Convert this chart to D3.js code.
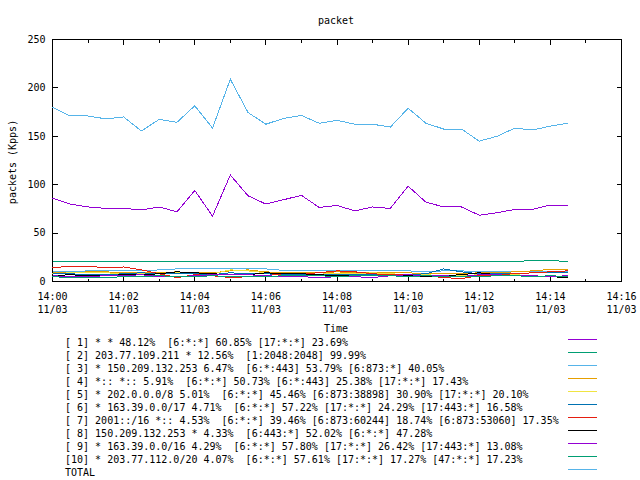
<!DOCTYPE html>
<html>
<head>
<meta charset="utf-8">
<script src="https://cdn.jsdelivr.net/npm/d3@7"></script>
<style>
body { margin: 0; background: #fff; }
text { font-family: "DejaVu Sans Mono", monospace; font-size: 10px; fill: #000; white-space: pre; }
</style>
</head>
<body>
<svg width="640" height="480"></svg>
<script>
// sample times, 30 s apart
var times = ['14:00:00', '14:00:30', '14:01:00', '14:01:30', '14:02:00', '14:02:30', '14:03:00', '14:03:30',
  '14:04:00', '14:04:30', '14:05:00', '14:05:30', '14:06:00', '14:06:30', '14:07:00', '14:07:30',
  '14:08:00', '14:08:30', '14:09:00', '14:09:30', '14:10:00', '14:10:30', '14:11:00', '14:11:30',
  '14:12:00', '14:12:30', '14:13:00', '14:13:30', '14:14:00', '14:14:30']

var s1 = [86, 80, 77, 75.5, 75.5, 74, 77, 72, 94, 67.5, 110, 88.5, 80, 84.5, 89, 76.5, 78.5, 73, 77, 75.5, 98.5, 82, 77, 77, 68.5, 71, 74.5, 74.5, 79, 78]
var s2 = [20.5, 20.5, 20.5, 20.5, 20.5, 20.5, 20.5, 20.5, 20.5, 20.5, 20.5, 20.5, 20.5, 20.5, 20.5, 20.5, 20.5, 20.5, 20.5, 20.5, 20.5, 20.5, 20.5, 20.5, 20.5, 20.5, 20.5, 21.8, 21.8, 20.5]
var s3 = [10, 10, 11, 11, 11, 11, 12, 13, 13, 13, 13, 13, 13, 11.5, 11.5, 11, 11, 11, 11, 11, 11, 10, 11, 11, 10, 10, 10, 10, 10, 10]
var s4 = [9, 9, 10, 10, 9, 9, 9, 10, 9, 9, 11, 12, 10, 9, 9, 9, 10, 9, 9, 9, 9, 8, 8, 8, 9, 9, 10, 11, 12.5, 12]
var s5 = [8, 9, 9, 9, 8, 8, 8, 9, 9, 8, 12, 11, 9, 8, 8, 9, 8, 8, 9, 8, 7, 7, 6, 6, 7, 7, 7, 6, 5, 5]
var s6 = [8, 8, 7, 7, 8, 9, 8, 8, 8, 7, 9, 8, 8, 7, 7, 7, 7, 7, 7, 7, 7, 8, 13, 10, 8, 8, 8, 9, 9, 9]
var s7 = [14, 16, 16, 14, 15, 12, 8, 4, 7, 6, 4, 5, 6, 8, 8, 9, 11, 10, 8, 7, 7, 6, 4, 3, 6, 7, 8, 9, 10, 11]
var s8 = [6, 7, 6, 6, 7, 7, 8, 10, 9, 8, 7, 7, 9, 8, 8, 7, 6, 6, 6, 6, 6, 5, 6, 7, 9, 7, 6, 5, 5, 4]
var s9 = [6, 5, 5, 6, 6, 7, 5, 5, 6, 7, 7, 7, 6, 5, 5, 4, 5, 5, 4, 6, 7, 6, 6, 5, 7, 7, 6, 6, 5, 6]
var s10 = [5, 4, 4, 4, 5, 5, 6, 5, 5, 6, 5, 5, 5, 6, 6, 6, 5, 6, 6, 6, 5, 6, 5, 5, 5, 6, 6, 5, 6, 5]
var total = [180, 171, 171, 168, 170, 155.5, 167.5, 164.5, 181.5, 158.5, 209, 174.5, 162.5, 168.5, 171.5, 163.5, 166.5, 162.5, 162.5, 159.5, 179, 163.5, 157.5, 157.5, 145, 150, 158.5, 156.5, 160.5, 163.5]

var yTicks = [0, 50, 100, 150, 200, 250]

var legendLabels = [
  '[ 1] * * 48.12%  [6:*:*] 60.85% [17:*:*] 23.69%',
  '[ 2] 203.77.109.211 * 12.56%  [1:2048:2048] 99.99%',
  '[ 3] * 150.209.132.253 6.47%  [6:*:443] 53.79% [6:873:*] 40.05%',
  '[ 4] *:: *:: 5.91%  [6:*:*] 50.73% [6:*:443] 25.38% [17:*:*] 17.43%',
  '[ 5] * 202.0.0.0/8 5.01%  [6:*:*] 45.46% [6:873:38898] 30.90% [17:*:*] 20.10%',
  '[ 6] * 163.39.0.0/17 4.71%  [6:*:*] 57.22% [17:*:*] 24.29% [17:443:*] 16.58%',
  '[ 7] 2001::/16 *:: 4.53%  [6:*:*] 39.46% [6:873:60244] 18.74% [6:873:53060] 17.35%',
  '[ 8] 150.209.132.253 * 4.33%  [6:443:*] 52.02% [6:*:*] 47.28%',
  '[ 9] * 163.39.0.0/16 4.29%  [6:*:*] 57.80% [17:*:*] 26.42% [17:443:*] 13.08%',
  '[10] * 203.77.112.0/20 4.07%  [6:*:*] 57.61% [17:*:*] 17.27% [47:*:*] 17.23%',
  'TOTAL'
]
var colors = ['#9400d3', '#009e73', '#56b4e9', '#e69f00', '#f0e442', '#0072b2', '#e51e10', '#000000', '#9400d3', '#009e73', '#56b4e9']

var series = [s1, s2, s3, s4, s5, s6, s7, s8, s9, s10, total]

var parseTime = d3.timeParse('%Y-%m-%d %H:%M:%S')
var dates = times.map(function (t) { return parseTime('2023-11-03 ' + t) })

var x = d3.scaleTime()
  .domain([parseTime('2023-11-03 14:00:00'), parseTime('2023-11-03 14:16:00')])
  .range([52.5, 621.5])
var y = d3.scaleLinear().domain([0, 250]).range([281.5, 39.5])

var svg = d3.select('svg')

svg.append('text').attr('x', 336).attr('y', 24).attr('text-anchor', 'middle').text('packet')

// minor ticks bottom and top
svg.append('g').attr('transform', 'translate(0,281.5)')
  .call(d3.axisBottom(x).ticks(d3.timeMinute.every(1)).tickSize(-3).tickFormat('').offset(0))
svg.append('g').attr('transform', 'translate(0,39.5)')
  .call(d3.axisTop(x).ticks(d3.timeMinute.every(1)).tickSize(-3).tickFormat('').offset(0))

var gx = svg.append('g').attr('transform', 'translate(0,281.5)')
  .call(d3.axisBottom(x).ticks(d3.timeMinute.every(2)).tickSize(-5).offset(0))
gx.selectAll('.tick text').attr('dy', null).attr('y', null).text(null)
  .each(function (d) {
    var t = d3.select(this)
    t.append('tspan').attr('x', 0).attr('y', 18.5).text(d3.timeFormat('%H:%M')(d))
    t.append('tspan').attr('x', 0).attr('y', 31.5).text(d3.timeFormat('%m/%d')(d))
  })
svg.append('g').attr('transform', 'translate(0,39.5)')
  .call(d3.axisTop(x).ticks(d3.timeMinute.every(2)).tickSize(-5).tickFormat('').offset(0))

svg.append('g').attr('transform', 'translate(52.5,0)')
  .call(d3.axisLeft(y).tickValues(yTicks).tickSize(-5).tickPadding(7).offset(0))
svg.append('g').attr('transform', 'translate(621.5,0)')
  .call(d3.axisRight(y).tickValues(yTicks).tickSize(-5).tickFormat('').offset(0))

svg.selectAll('.domain').remove()
svg.selectAll('.tick line').attr('stroke', '#000').attr('shape-rendering', 'crispEdges')
svg.selectAll('.tick text').attr('font-family', null).attr('font-size', null).attr('fill', null)

svg.append('rect')
  .attr('x', 52.5).attr('y', 39.5).attr('width', 569).attr('height', 242)
  .attr('fill', 'none').attr('stroke', '#000').attr('shape-rendering', 'crispEdges')

svg.append('text').attr('transform', 'translate(16,162) rotate(-90)')
  .attr('text-anchor', 'middle').text('packets (Kpps)')
svg.append('text').attr('x', 336).attr('y', 332).attr('text-anchor', 'middle').text('Time')

var line = d3.line()
  .x(function (d, i) { return x(dates[i]) })
  .y(function (d) { return y(d) })

svg.selectAll('path.series')
  .data(series)
  .enter().append('path')
  .attr('class', 'series')
  .attr('d', line)
  .attr('fill', 'none')
  .attr('stroke', function (d, i) { return colors[i] })
  .attr('stroke-width', 1)
  .attr('shape-rendering', 'crispEdges')

var key = svg.selectAll('g.key')
  .data(legendLabels)
  .enter().append('g')
  .attr('class', 'key')
  .attr('transform', function (d, i) { return 'translate(0,' + (13 * i) + ')' })
key.append('text').attr('x', 65).attr('y', 346).text(function (d) { return d })
key.append('line')
  .attr('x1', 568).attr('x2', 597).attr('y1', 339.5).attr('y2', 339.5)
  .attr('stroke', function (d, i) { return colors[i] })
  .attr('shape-rendering', 'crispEdges')
</script>
</body>
</html>
